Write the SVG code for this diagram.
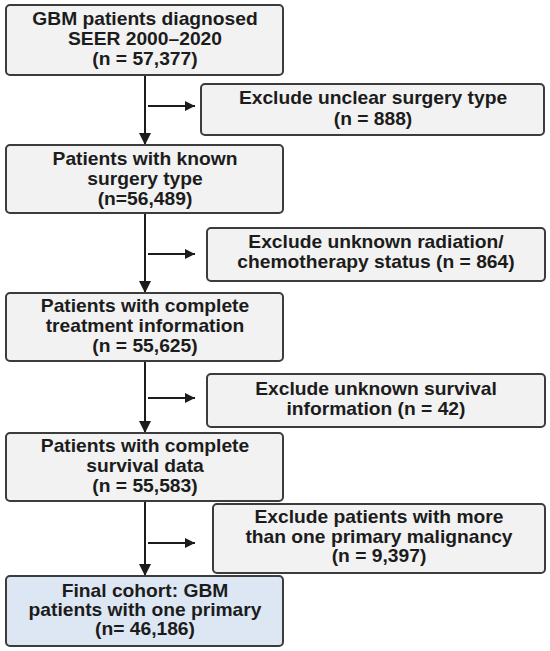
<svg xmlns="http://www.w3.org/2000/svg" width="550" height="651" viewBox="0 0 550 651">
<defs>
<style>
.box{fill:#f2f2f2;stroke:#3c3c3c;stroke-width:2}
.final{fill:#dde7f4;stroke:#3c3c3c;stroke-width:2}
text{font-family:"Liberation Sans",Arial,sans-serif;font-weight:bold;font-size:17.5px;fill:#1c1c1c;text-anchor:middle}
.ln{stroke:#1c1c1c;stroke-width:2;fill:none}
</style>
<marker id="av" viewBox="0 0 12 12" markerWidth="12" markerHeight="12" refX="12" refY="6" orient="auto" markerUnits="userSpaceOnUse"><path d="M0,0 L12,6 L0,12 Z" fill="#1c1c1c"/></marker>
<marker id="ah" viewBox="0 0 10 10" markerWidth="10" markerHeight="10" refX="10" refY="5" orient="auto" markerUnits="userSpaceOnUse"><path d="M0,0 L10,5 L0,10 Z" fill="#1c1c1c"/></marker>
</defs>
<rect width="550" height="651" fill="#ffffff"/>
<g id="connectors">
<line class="ln" x1="145" y1="75" x2="145" y2="145" marker-end="url(#av)"/>
<line class="ln" x1="145" y1="213" x2="145" y2="293" marker-end="url(#av)"/>
<line class="ln" x1="145" y1="361" x2="145" y2="433" marker-end="url(#av)"/>
<line class="ln" x1="145" y1="501" x2="145" y2="576" marker-end="url(#av)"/>
<line class="ln" x1="148" y1="106" x2="195" y2="106" marker-end="url(#ah)"/>
<line class="ln" x1="148" y1="254" x2="195" y2="254" marker-end="url(#ah)"/>
<line class="ln" x1="148" y1="398" x2="195" y2="398" marker-end="url(#ah)"/>
<line class="ln" x1="148" y1="543" x2="195" y2="543" marker-end="url(#ah)"/>
</g>
<g id="n1">
<rect class="box" x="6" y="5" width="277" height="70" rx="4"/>
<g transform="translate(145,0) scale(1.1,1)"><text x="0" y="25">GBM patients diagnosed</text><text x="0" y="45">SEER 2000–2020</text><text x="0" y="65">(n = 57,377)</text></g>
</g>
<g id="x1">
<rect class="box" x="201" y="84" width="343" height="51" rx="4"/>
<g transform="translate(373,0) scale(1.1,1)"><text x="0" y="104">Exclude unclear surgery type</text><text x="0" y="125">(n = 888)</text></g>
</g>
<g id="n2">
<rect class="box" x="6" y="145" width="277" height="68" rx="4"/>
<g transform="translate(145,0) scale(1.1,1)"><text x="0" y="165">Patients with known</text><text x="0" y="185">surgery type</text><text x="0" y="205">(n=56,489)</text></g>
</g>
<g id="x2">
<rect class="box" x="207" y="228" width="338" height="53" rx="4"/>
<g transform="translate(376,0) scale(1.1,1)"><text x="0" y="248">Exclude unknown radiation/</text><text x="0" y="268">chemotherapy status (n = 864)</text></g>
</g>
<g id="n3">
<rect class="box" x="6" y="293" width="277" height="68" rx="4"/>
<g transform="translate(145,0) scale(1.1,1)"><text x="0" y="312">Patients with complete</text><text x="0" y="332">treatment information</text><text x="0" y="352">(n = 55,625)</text></g>
</g>
<g id="x3">
<rect class="box" x="207" y="374" width="338" height="53" rx="4"/>
<g transform="translate(376,0) scale(1.1,1)"><text x="0" y="395">Exclude unknown survival</text><text x="0" y="415">information (n = 42)</text></g>
</g>
<g id="n4">
<rect class="box" x="6" y="433" width="277" height="68" rx="4"/>
<g transform="translate(145,0) scale(1.1,1)"><text x="0" y="452">Patients with complete</text><text x="0" y="472">survival data</text><text x="0" y="492">(n = 55,583)</text></g>
</g>
<g id="x4">
<rect class="box" x="213" y="504" width="332" height="69" rx="4"/>
<g transform="translate(379,0) scale(1.1,1)"><text x="0" y="523">Exclude patients with more</text><text x="0" y="543">than one primary malignancy</text><text x="0" y="562">(n = 9,397)</text></g>
</g>
<g id="n5">
<rect class="final" x="6" y="576" width="277" height="70" rx="4"/>
<g transform="translate(145,0) scale(1.1,1)"><text x="0" y="597">Final cohort: GBM</text><text x="0" y="616">patients with one primary</text><text x="0" y="635">(n= 46,186)</text></g>
</g>
</svg>
